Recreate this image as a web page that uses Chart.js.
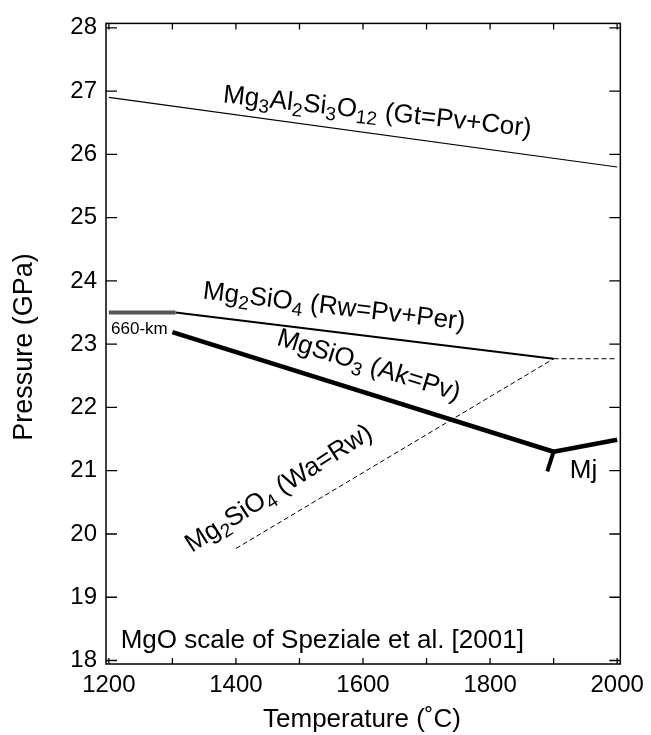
<!DOCTYPE html>
<html>
<head>
<meta charset="utf-8">
<script src="https://cdn.jsdelivr.net/npm/chart.js@4.4.1/dist/chart.umd.min.js"></script>
<style>
  body { margin: 0; background: #fff; }
  canvas { display: block; }
</style>
</head>
<body>
<canvas id="mycanvas" width="651" height="735"></canvas>
<script>
// temperature (C) / pressure (GPa)
var gtT = [1200, 2000];
var gtP = [26.90, 25.80];
var kmT = [1200, 1305];
var kmP = [23.50, 23.50];
var rwT = [1305, 1900];
var rwP = [23.50, 22.77];
var rwExtT = [1900, 2000];
var rwExtP = [22.77, 22.77];
var waT = [1400, 1900];
var waP = [19.77, 22.77];
var akT = [1300, 1900];
var akP = [23.19, 21.30];
var mjT = [1900, 2000];
var mjP = [21.30, 21.49];
var mjLowT = [1900, 1890];
var mjLowP = [21.30, 20.99];

var xTicks = [1200, 1300, 1400, 1500, 1600, 1700, 1800, 1900, 2000];
var yTicks = [18, 19, 20, 21, 22, 23, 24, 25, 26, 27, 28];

var FONT = '"Liberation Sans", Arial, Helvetica, sans-serif';

function pts(xs, ys) {
	var out = [];
	for (var i = 0; i < xs.length; i++) {
		out.push({x: xs[i], y: ys[i]});
	}
	return out;
}

function line(xs, ys, width, color, dash) {
	return {
		data: pts(xs, ys),
		showLine: true,
		borderColor: color,
		borderWidth: width,
		borderDash: dash || [],
		borderCapStyle: 'butt',
		pointRadius: 0,
		fill: false
	};
}

// labels: segments with subscripts, anchored in data coords
var notes = [
	{t: 1623, p: 26.70, rot: 6.3, size: 26, segs: [['Mg'], ['3', 1], ['Al'], ['2', 1], ['Si'], ['3', 1], ['O'], ['12', 1], [' (Gt=Pv+Cor)']]},
	{t: 1555, p: 23.62, rot: 6.8, size: 26, segs: [['Mg'], ['2', 1], ['SiO'], ['4', 1], [' (Rw=Pv+Per)']]},
	{t: 1610, p: 22.69, rot: 17.2, size: 26, segs: [['MgSiO'], ['3', 1], [' (Ak=Pv)']]},
	{t: 1466, p: 20.74, rot: -32.5, size: 26, segs: [['Mg'], ['2', 1], ['SiO'], ['4', 1], [' (Wa=Rw)']]},
	{t: 1947, p: 21.03, rot: 0, size: 26, segs: [['Mj']]},
	{t: 1248, p: 23.26, rot: 0, size: 17, segs: [['660-km']]}
];

function drawRich(ctx, n, cx, cy) {
	var big = n.size + 'px ' + FONT;
	var small = Math.round(n.size * 0.72) + 'px ' + FONT;
	var w = 0;
	n.segs.forEach(function(s) {
		ctx.font = s[1] ? small : big;
		w += ctx.measureText(s[0]).width;
	});
	ctx.save();
	ctx.translate(cx, cy);
	ctx.rotate(n.rot * Math.PI / 180);
	ctx.textBaseline = 'alphabetic';
	ctx.textAlign = 'left';
	ctx.fillStyle = '#000';
	var x = -w / 2;
	var base = n.size * 0.36;
	n.segs.forEach(function(s) {
		ctx.font = s[1] ? small : big;
		ctx.fillText(s[0], x, base + (s[1] ? n.size * 0.22 : 0));
		x += ctx.measureText(s[0]).width;
	});
	ctx.restore();
}

var framePlugin = {
	id: 'frame',
	afterDatasetsDraw: function(chart) {
		var ctx = chart.ctx;
		var a = chart.chartArea;
		var xs = chart.scales.x;
		var ys = chart.scales.y;
		ctx.save();
		ctx.strokeStyle = '#000';
		ctx.lineWidth = 1.5;
		ctx.strokeRect(a.left, a.top, a.right - a.left, a.bottom - a.top);
		ctx.beginPath();
		xTicks.forEach(function(v) {
			var px = xs.getPixelForValue(v);
			ctx.moveTo(px, a.bottom); ctx.lineTo(px, a.bottom - 6);
			ctx.moveTo(px, a.top); ctx.lineTo(px, a.top + 6);
		});
		yTicks.forEach(function(v) {
			var py = ys.getPixelForValue(v);
			ctx.moveTo(a.left, py); ctx.lineTo(a.left + 11, py);
			ctx.moveTo(a.right, py); ctx.lineTo(a.right - 11, py);
		});
		ctx.lineWidth = 1.3;
		ctx.stroke();

		notes.forEach(function(n) {
			drawRich(ctx, n, xs.getPixelForValue(n.t), ys.getPixelForValue(n.p));
		});

		ctx.font = '26px ' + FONT;
		ctx.fillStyle = '#000';
		ctx.textAlign = 'left';
		ctx.textBaseline = 'middle';
		ctx.fillText('MgO scale of Speziale et al. [2001]', xs.getPixelForValue(1218.6), ys.getPixelForValue(18.31));

		ctx.textAlign = 'center';
		ctx.fillText('Temperature (\u02DAC)', 362, 720);
		ctx.translate(25, 347);
		ctx.rotate(-Math.PI / 2);
		ctx.font = '27px ' + FONT;
		ctx.fillText('Pressure (GPa)', 0, 0);
		ctx.restore();
	}
};

var chartdata = {
	datasets: [
		line(gtT, gtP, 1.2, '#000'),
		line(kmT, kmP, 4, '#555'),
		line(rwT, rwP, 2, '#000'),
		line(rwExtT, rwExtP, 1, '#000', [5, 3]),
		line(waT, waP, 1, '#000', [5, 3]),
		line(akT, akP, 4.5, '#000'),
		line(mjT, mjP, 4.5, '#000'),
		line(mjLowT, mjLowP, 4, '#000')
	]
};

var ctx = document.getElementById('mycanvas');
var plot = new Chart(ctx, {
	type: 'scatter',
	data: chartdata,
	options: {
		responsive: false,
		animation: false,
		layout: { padding: { left: 0, right: 24, top: 21, bottom: 0 } },
		plugins: { legend: { display: false }, tooltip: { enabled: false } },
		scales: {
			x: {
				type: 'linear',
				min: 1195.5,
				max: 2005,
				afterBuildTicks: function(s) {
					s.ticks = xTicks.map(function(v) { return {value: v}; });
				},
				afterFit: function(s) { s.height = 71; },
				grid: { display: false, drawTicks: false },
				border: { display: false },
				ticks: {
					color: '#000',
					padding: 7,
					maxRotation: 0,
					autoSkip: false,
					font: { family: FONT, size: 24 },
					callback: function(v) { return v % 200 === 0 ? v : ''; }
				}
			},
			y: {
				type: 'linear',
				min: 17.945,
				max: 28.07,
				afterBuildTicks: function(s) {
					s.ticks = yTicks.map(function(v) { return {value: v}; });
				},
				afterFit: function(s) { s.width = 106; },
				grid: { display: false, drawTicks: false },
				border: { display: false },
				ticks: {
					color: '#000',
					padding: 9,
					autoSkip: false,
					font: { family: FONT, size: 24 }
				}
			}
		}
	},
	plugins: [framePlugin]
});
</script>
</body>
</html>
